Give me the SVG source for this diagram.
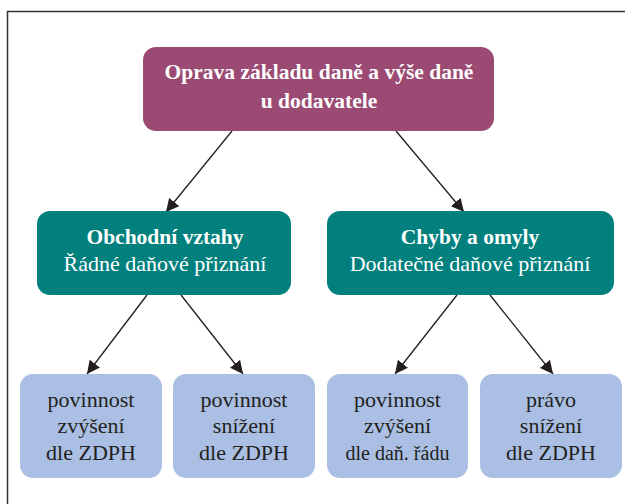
<svg xmlns="http://www.w3.org/2000/svg" width="625" height="504" viewBox="0 0 625 504">
<defs>
<style>
.t{font-family:"Liberation Serif","Times New Roman",serif;text-anchor:middle;}
.w{fill:#ffffff;font-size:22px;}
.b{font-weight:bold;font-size:21.5px;}
.d{fill:#231f20;font-size:22px;}
.c{stroke:#231f20;stroke-width:1.3;fill:none;marker-end:url(#ah);}
</style>
<marker id="ah" viewBox="0 0 10 10" refX="10" refY="5" markerWidth="13" markerHeight="13" markerUnits="userSpaceOnUse" orient="auto">
<path d="M0,0 L10,5 L0,10 z" fill="#231f20"/>
</marker>
</defs>
<rect x="0" y="0" width="625" height="504" fill="#ffffff"/>
<path d="M7.5,520 V11.5 H640" fill="none" stroke="#333333" stroke-width="1.5"/>
<g id="connectors">
<line class="c" x1="232" y1="131" x2="166" y2="212"/>
<line class="c" x1="396" y1="131" x2="464" y2="212"/>
<line class="c" x1="147" y1="295" x2="87" y2="374"/>
<line class="c" x1="181" y1="295" x2="243" y2="374"/>
<line class="c" x1="457" y1="295" x2="395" y2="374"/>
<line class="c" x1="490" y1="295" x2="553" y2="374"/>
</g>
<g id="root">
<rect x="143" y="47" width="351" height="84" rx="13" fill="#9a4a73"/>
<text class="t w b" x="319" y="79">Oprava základu daně a výše daně</text>
<text class="t w b" x="319" y="108">u dodavatele</text>
</g>
<g id="obchodni">
<rect x="37" y="211" width="254" height="84" rx="13" fill="#01807e"/>
<text class="t w b" x="165" y="244">Obchodní vztahy</text>
<text class="t w" x="165" y="271">Řádné daňové přiznání</text>
</g>
<g id="chyby">
<rect x="327" y="211" width="287" height="84" rx="13" fill="#01807e"/>
<text class="t w b" x="470" y="244">Chyby a omyly</text>
<text class="t w" x="470" y="271">Dodatečné daňové přiznání</text>
</g>
<g id="b1">
<rect x="20" y="374" width="142" height="104" rx="13" fill="#aabfe3"/>
<text class="t d" x="91" y="407">povinnost</text>
<text class="t d" x="91" y="433">zvýšení</text>
<text class="t d" x="91" y="460">dle ZDPH</text>
</g>
<g id="b2">
<rect x="173" y="374" width="142" height="104" rx="13" fill="#aabfe3"/>
<text class="t d" x="244" y="407">povinnost</text>
<text class="t d" x="244" y="433">snížení</text>
<text class="t d" x="244" y="460">dle ZDPH</text>
</g>
<g id="b3">
<rect x="327" y="374" width="141" height="104" rx="13" fill="#aabfe3"/>
<text class="t d" x="397.5" y="407">povinnost</text>
<text class="t d" x="397.5" y="433">zvýšení</text>
<text class="t d" x="397.5" y="460" style="font-size:20px">dle daň. řádu</text>
</g>
<g id="b4">
<rect x="480" y="374" width="142" height="104" rx="13" fill="#aabfe3"/>
<text class="t d" x="551" y="407">právo</text>
<text class="t d" x="551" y="433">snížení</text>
<text class="t d" x="551" y="460">dle ZDPH</text>
</g>
</svg>
